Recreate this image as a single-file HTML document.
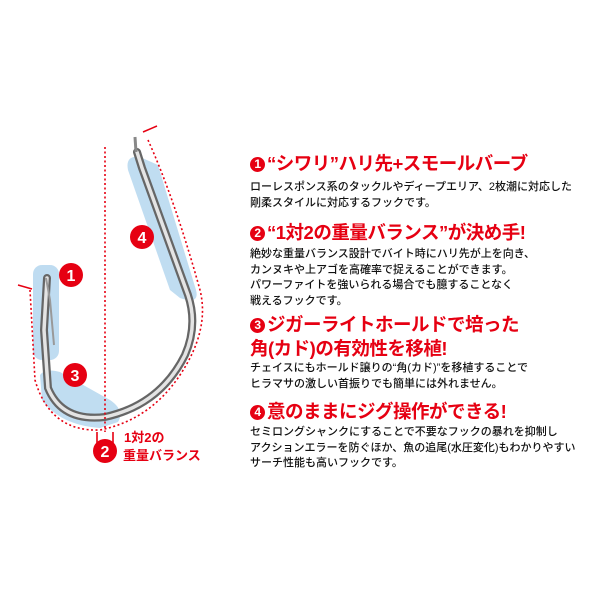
<!DOCTYPE html>
<html><head><meta charset="utf-8"><style>
body{margin:0;width:600px;height:600px;background:#fff;position:relative;overflow:hidden;font-family:"Liberation Sans","Noto Sans CJK JP",sans-serif}
.t{position:absolute;left:250px;white-space:nowrap}
.h{color:#e60012;font-weight:bold;font-size:18.5px;letter-spacing:-0.5px}
.b{color:#111;font-size:11px;line-height:15.6px;font-weight:500}
.n{display:inline-block;width:15px;height:15px;border-radius:50%;background:#e60012;color:#fff;font-size:12px;text-align:center;line-height:15px;vertical-align:2px;margin-right:2px}
</style></head><body>
<svg width="600" height="600" style="position:absolute;left:0;top:0">
<g fill="#b9d9f0" opacity="0.9">
<path d="M128 170 Q125 155 140 157 L158 165 L196 290 Q200 305 180 298 L170 290 Z"/>
<rect x="33" y="265" width="26" height="95" rx="9"/>
<path d="M40 375 Q45 368 60 372 L110 400 Q125 410 118 422 L100 428 Q60 425 42 400 Z"/>
</g>
<path d="M137 152 L142 168 L188 295 Q198 325 185 355 Q160 405 105 417 Q62 422 48 388 L44 330 L47 278" fill="none" stroke="#666" stroke-width="8" stroke-linecap="round"/>
<path d="M137 152 L142 168 L188 295 Q198 325 185 355 Q160 405 105 417 Q62 422 48 388 L44 330 L47 278" fill="none" stroke="#e4e4e4" stroke-width="3.5" stroke-linecap="round"/>
<path d="M135 137 L136 152" stroke="#888" stroke-width="3"/>
<path d="M46 278 L50 300 L54 345" fill="none" stroke="#999" stroke-width="2"/>
<g fill="none" stroke="#e60012" stroke-width="1.6" stroke-dasharray="2 2.5">
<path d="M105 147 L105 432"/>
<path d="M148 140 Q175 200 200 290 Q210 330 180 375 Q150 420 100 430 Q50 432 35 380 L30 290"/>
<path d="M97 432 L97 445 M113 432 L113 445" stroke-dasharray="none"/>
</g>
<path d="M143 132 L157 126 M18 285 L32 289" stroke="#e60012" stroke-width="1.5"/>
<g fill="#e60012"><circle cx="71" cy="275" r="12"/><circle cx="142" cy="237" r="12"/><circle cx="75" cy="375" r="12"/><circle cx="105" cy="451" r="12"/></g>
<g fill="#fff" font-weight="bold" font-size="16" text-anchor="middle" font-family="Liberation Sans,sans-serif"><text x="71" y="281">1</text><text x="142" y="243">4</text><text x="75" y="381">3</text><text x="105" y="457">2</text></g>
<g fill="#e60012" font-weight="bold" font-size="13" font-family="Liberation Sans,Noto Sans CJK JP,sans-serif"><text x="124" y="442">1対2の</text><text x="123" y="460">重量バランス</text></g>
</svg>
<div class="t h" style="top:150px"><span class="n">1</span>“シワリ”ハリ先+スモールバーブ</div>
<div class="t b" style="top:180px">ローレスポンス系のタックルやディープエリア、2枚潮に対応した<br>剛柔スタイルに対応するフックです。</div>
<div class="t h" style="top:219px"><span class="n">2</span>“1対2の重量バランス”が決め手!</div>
<div class="t b" style="top:247px">絶妙な重量バランス設計でバイト時にハリ先が上を向き、<br>カンヌキや上アゴを高確率で捉えることができます。<br>パワーファイトを強いられる場合でも臆することなく<br>戦えるフックです。</div>
<div class="t h" style="top:313px;line-height:24px"><span class="n">3</span>ジガーライトホールドで培った<br>角(カド)の有効性を移植!</div>
<div class="t b" style="top:361px">チェイスにもホールド譲りの“角(カド)”を移植することで<br>ヒラマサの激しい首振りでも簡単には外れません。</div>
<div class="t h" style="top:398px"><span class="n">4</span>意のままにジグ操作ができる!</div>
<div class="t b" style="top:425px">セミロングシャンクにすることで不要なフックの暴れを抑制し<br>アクションエラーを防ぐほか、魚の追尾(水圧変化)もわかりやすい<br>サーチ性能も高いフックです。</div>
</body></html>
